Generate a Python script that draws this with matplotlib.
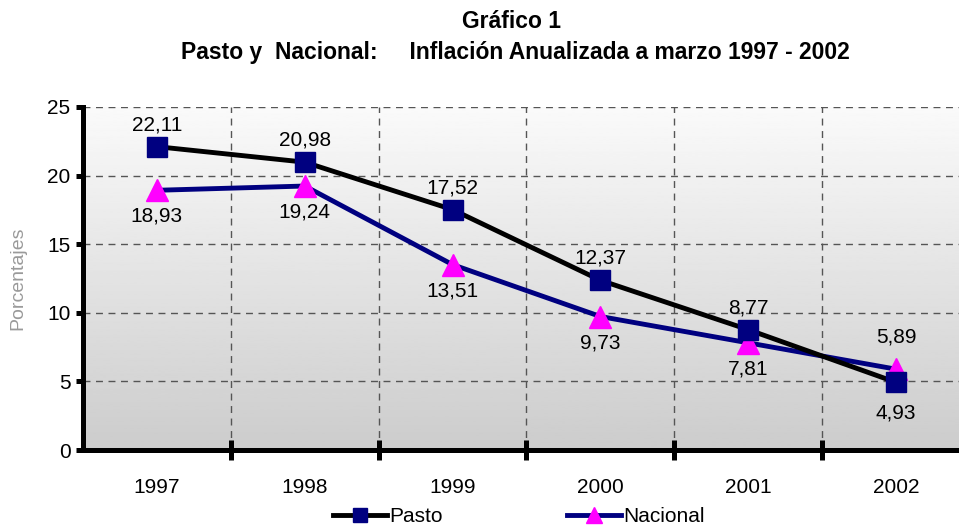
import numpy as np
from matplotlib import pyplot as plt
from matplotlib.lines import Line2D

plt.rcParams['font.family'] = ['Liberation Sans', 'DejaVu Sans']

# data
years = ['1997', '1998', '1999', '2000', '2001', '2002']
pasto = [22.11, 20.98, 17.52, 12.37, 8.77, 4.93]
nacional = [18.93, 19.24, 13.51, 9.73, 7.81, 5.89]
pasto_lbl = ['22,11', '20,98', '17,52', '12,37', '8,77', '4,93']
nacional_lbl = ['18,93', '19,24', '13,51', '9,73', '7,81', '5,89']

W, H = 959, 528
fig = plt.figure(figsize=(W / 100, H / 100), dpi=100)
ax = fig.add_axes([83 / W, 1 - 450 / H, 1 - 83 / W, (450 - 107) / H])

x = np.arange(len(years))
xmin, xmax = -0.5, (959 - 156) / 148.0
ax.set_xlim(xmin, xmax)
ax.set_ylim(0, 25)

# gray gradient background
grad = np.linspace(0.98, 0.80, 256).reshape(-1, 1)
ax.imshow(grad, cmap='gray', vmin=0, vmax=1, aspect='auto',
          extent=[xmin, xmax, 0, 25], zorder=0)

# grid
for yv in [5, 10, 15, 20, 25]:
    ax.axhline(yv, color='#555555', lw=1, ls=(0, (5, 4)), zorder=1)
for xv in np.arange(0.5, 5.0, 1.0):
    ax.axvline(xv, color='#555555', lw=1, ls=(0, (5, 4)), zorder=1)

ax.plot(x, pasto, color='black', lw=3.5, marker='s', ms=15,
        mfc='#000080', mec='#000080', zorder=4)
ax.plot(x, nacional, color='#000080', lw=3.5, marker='^', ms=16,
        mfc='#ff00ff', mec='#ff00ff', zorder=3)

fs = 15
# value labels
for i in range(len(years)):
    if i < 5:
        ax.annotate(pasto_lbl[i], (x[i], pasto[i]), xytext=(0, 9),
                    textcoords='offset points', ha='center', va='bottom', fontsize=fs)
        ax.annotate(nacional_lbl[i], (x[i], nacional[i]), xytext=(0, -12),
                    textcoords='offset points', ha='center', va='top', fontsize=fs)
    else:
        ax.annotate(pasto_lbl[i], (x[i], pasto[i]), xytext=(0, -15),
                    textcoords='offset points', ha='center', va='top', fontsize=fs)
        ax.annotate(nacional_lbl[i], (x[i], nacional[i]), xytext=(0, 16),
                    textcoords='offset points', ha='center', va='bottom', fontsize=fs)

# axes styling
for s in ['top', 'right']:
    ax.spines[s].set_visible(False)
ax.spines['left'].set_linewidth(3.6)
ax.spines['bottom'].set_linewidth(3.6)
ax.set_yticks([0, 5, 10, 15, 20, 25])
ax.tick_params(axis='y', direction='out', length=5, width=3.6, labelsize=fs, pad=4)
ax.set_xticks(np.arange(0.5, 5.0, 1.0))
ax.set_xticklabels([])
ax.tick_params(axis='x', direction='inout', length=14, width=3.6)
for i, yr in enumerate(years):
    ax.text(x[i], -2.7, yr, ha='center', va='center', fontsize=fs)

fig.text(18 / W, 1 - 278 / H, 'Porcentajes', rotation=90, ha='center', va='center',
         fontsize=14, color='#9a9a9a')

fig.text(512 / W, 1 - 21 / H, 'Gráfico 1', ha='center', va='center',
         fontsize=16.5, fontweight='bold')
fig.text(515 / W, 1 - 52 / H, 'Pasto y  Nacional:     Inflación Anualizada a marzo 1997 - 2002',
         ha='center', va='center', fontsize=16.5, fontweight='bold')

handles = [
    Line2D([], [], color='black', lw=3.5, marker='s', ms=10, mfc='#000080', mec='#000080'),
    Line2D([], [], color='#000080', lw=3.5, marker='^', ms=12, mfc='#ff00ff', mec='#ff00ff'),
]
fig.legend(handles, ['Pasto', 'Nacional'], loc='center left', bbox_to_anchor=(333 / W, 1 - 517 / H),
           ncol=2, frameon=False, fontsize=fs, handlelength=2.6, handletextpad=0.1,
           columnspacing=5.95, borderaxespad=0, borderpad=0)

fig.savefig('out.png', dpi=100)
